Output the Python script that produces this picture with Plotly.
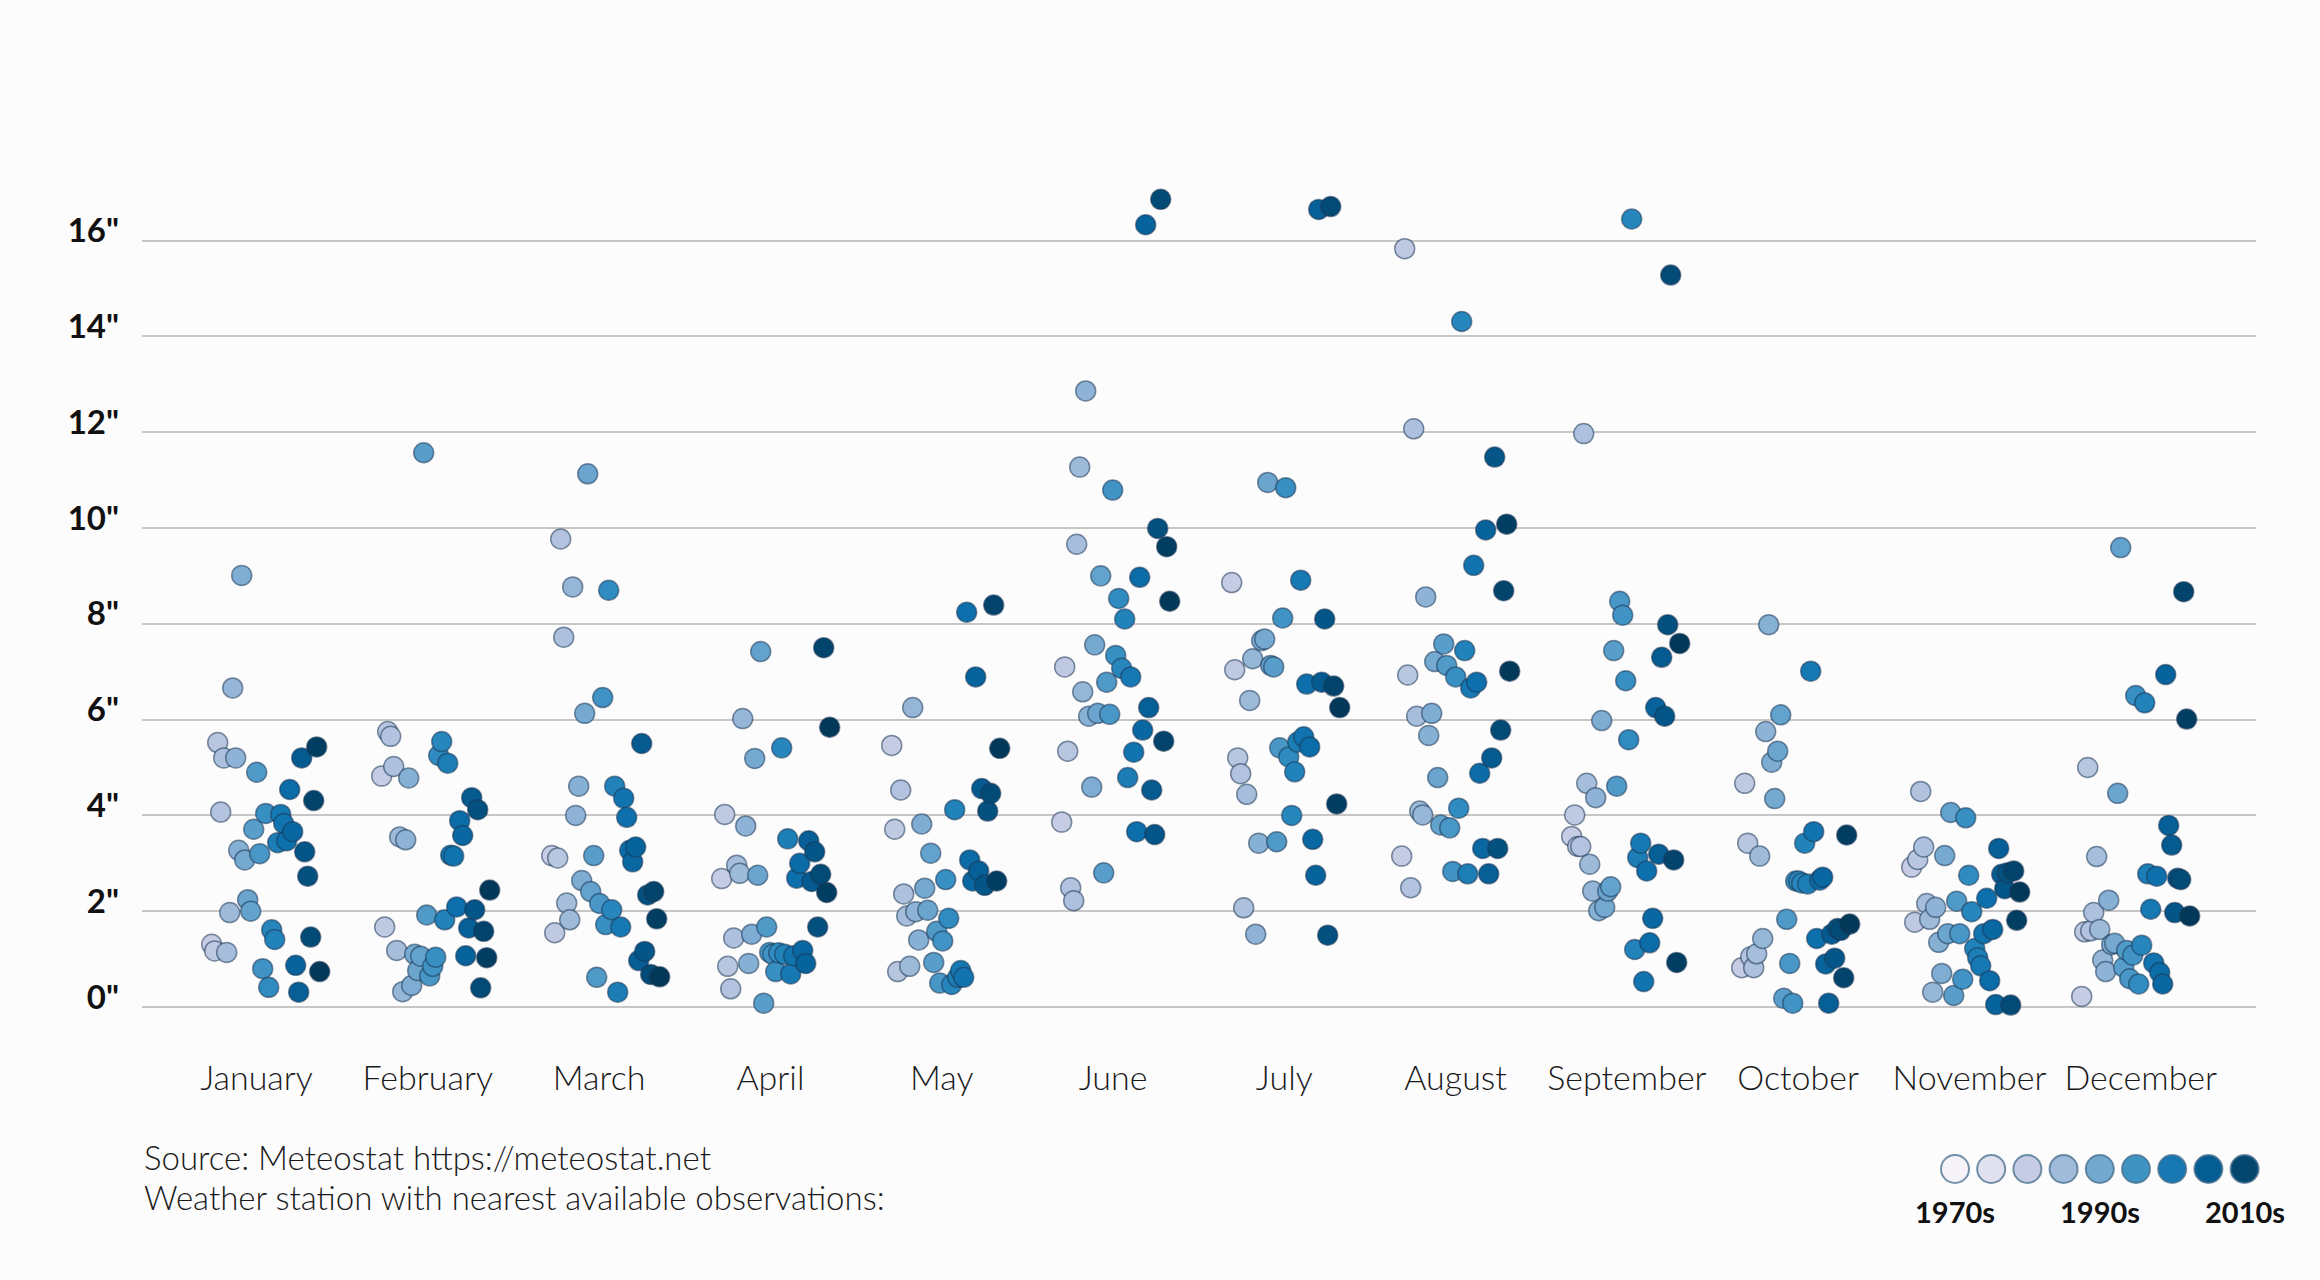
import plotly.graph_objects as go

# ---------------- data ----------------
MONTHS = ["January", "February", "March", "April", "May", "June",
          "July", "August", "September", "October", "November", "December"]
YEARS = [1983, 1984, 1985, 1986, 1987, 1988, 1989, 1990, 1991, 1992, 1993, 1994,
         1995, 1996, 1997, 1998, 1999, 2000, 2001, 2002, 2003, 2004, 2005, 2006,
         2007, 2008, 2009, 2010, 2011, 2012, 2013, 2014, 2015, 2016, 2017, 2018, 2019]

jan = [1.31, 1.17, 5.52, 4.07, 5.20, 1.14, 1.97, 6.66, 5.20, 3.27, 9.01, 3.07, 2.24, 2.00,
       3.71, 4.90, 3.20, 0.80, 4.04, 0.41, 1.61, 1.41, 3.43, 4.02, 3.83, 3.47, 4.54, 3.66,
       0.87, 0.31, 5.20, 3.24, 2.73, 1.46, 4.31, 5.43, 0.74]
feb = [4.82, 1.67, 5.75, 5.65, 5.02, 1.18, 3.55, 0.32, 3.49, 4.78, 0.45, 1.10, 0.76, 1.06,
       11.57, 1.92, 0.65, 0.85, 1.04, 5.25, 5.54, 1.82, 5.09, 3.17, 3.15, 2.09, 3.89, 3.58,
       1.07, 1.65, 4.37, 2.03, 4.12, 0.40, 1.58, 1.03, 2.44]
mar = [3.16, 1.55, 3.11, 9.77, 7.72, 2.17, 1.82, 8.77, 4.00, 4.61, 2.64, 6.13, 11.13, 2.41,
       3.16, 0.62, 2.16, 6.46, 1.72, 8.70, 2.03, 4.61, 0.31, 1.67, 4.36, 3.96, 3.27, 3.03,
       3.34, 0.97, 5.50, 1.16, 2.34, 0.68, 2.41, 1.84, 0.63]
apr = [2.68, 4.02, 0.85, 0.38, 1.44, 2.96, 2.79, 6.02, 3.78, 0.91, 1.52, 5.19, 2.75, 7.42,
       0.08, 1.67, 1.14, 1.10, 0.74, 1.13, 5.41, 1.10, 3.51, 0.69, 1.07, 2.69, 3.00, 1.18,
       0.91, 3.47, 2.62, 3.24, 1.67, 2.77, 7.50, 2.39, 5.84]
may = [5.46, 3.71, 0.74, 4.53, 2.36, 1.90, 0.85, 6.25, 1.99, 1.40, 3.82, 2.48, 2.02, 3.21,
       0.93, 1.58, 0.50, 1.38, 2.66, 1.85, 0.47, 4.12, 0.62, 0.76, 0.62, 8.24, 3.07, 2.63,
       6.89, 2.84, 4.56, 2.54, 4.09, 4.46, 8.39, 2.63, 5.40]
jun = [3.86, 7.10, 5.34, 2.49, 2.22, 9.66, 11.27, 6.58, 12.86, 6.07, 4.59, 7.56, 6.13, 9.00,
       2.80, 6.78, 6.11, 10.79, 7.34, 8.53, 7.07, 8.10, 4.79, 6.89, 5.32, 3.66, 8.97, 5.78,
       16.33, 6.25, 4.53, 3.60, 9.99, 16.86, 5.55, 9.61, 8.47]
jul = [8.86, 7.04, 5.20, 4.87, 2.07, 4.44, 6.40, 7.27, 1.52, 3.42, 7.65, 7.68, 10.95, 7.13,
       7.10, 3.45, 5.41, 8.12, 10.84, 5.22, 4.00, 4.91, 5.53, 8.91, 5.64, 6.74, 5.43, 3.50,
       2.75, 16.65, 6.78, 8.10, 1.50, 16.71, 6.70, 4.24, 6.25]
aug = [3.15, 15.83, 6.93, 2.49, 12.07, 6.07, 4.09, 4.01, 8.56, 5.67, 6.13, 7.21, 4.79, 3.80,
       7.58, 7.13, 3.74, 2.83, 6.89, 4.15, 14.31, 7.44, 2.78, 6.66, 9.22, 6.78, 4.88, 3.31,
       9.96, 2.78, 5.20, 11.48, 3.31, 5.78, 8.69, 10.08, 7.01]
sep = [3.56, 4.01, 3.35, 3.35, 11.97, 4.67, 2.98, 2.42, 4.37, 2.01, 5.98, 2.08, 2.42, 2.51,
       7.44, 4.61, 8.47, 8.18, 6.81, 5.58, 16.45, 1.20, 3.12, 3.42, 0.53, 2.84, 1.34, 1.85,
       6.25, 3.19, 7.30, 6.07, 7.98, 15.28, 3.07, 0.93, 7.59]
oct = [0.82, 4.67, 3.42, 1.05, 0.82, 1.11, 3.15, 1.43, 5.75, 7.98, 5.11, 4.35, 5.34, 6.10,
       0.18, 1.83, 0.91, 0.08, 2.63, 2.63, 2.59, 3.42, 2.57, 7.01, 3.66, 1.43, 2.65, 2.71,
       0.90, 0.08, 1.52, 1.02, 1.64, 1.60, 0.61, 3.59, 1.73]
nov = [2.92, 1.77, 3.08, 4.50, 3.34, 2.16, 1.83, 0.31, 2.08, 1.35, 0.70, 3.16, 1.53, 4.06,
       0.24, 2.21, 1.53, 0.58, 3.95, 2.75, 1.99, 1.22, 1.03, 0.86, 1.53, 2.27, 0.55, 1.62,
       0.05, 3.31, 2.77, 2.47, 2.80, 0.04, 2.84, 1.81, 2.40]
dec = [0.22, 1.57, 5.00, 1.59, 1.97, 3.14, 1.62, 0.98, 0.74, 2.23, 1.30, 1.33, 4.46, 9.59,
       0.83, 1.18, 0.59, 1.08, 6.50, 0.48, 1.29, 6.35, 2.78, 2.04, 0.92, 2.73, 0.72, 0.48,
       6.94, 3.79, 3.38, 1.97, 2.69, 2.66, 8.67, 6.01, 1.90]

MONTH_VALUES = [jan, feb, mar, apr, may, jun, jul, aug, sep, oct, nov, dec]
Y_TICKS = [0, 2, 4, 6, 8, 10, 12, 14, 16]
Y_TICK_TEXT = ['0"', '2"', '4"', '6"', '8"', '10"', '12"', '14"', '16"']
LEGEND_LABELS = ["1970s", "1990s", "2010s"]
SOURCE_LINES = ["Source: Meteostat https://meteostat.net",
                "Weather station with nearest available observations:"]

# ---------------- styling / layout constants ----------------
W, H = 2320, 1280
ML, MR, MT, MB = 142, 64, 150, 240
YEAR_STEP = 3.0 / 170.0       # axis units per year inside a month band
YEAR_MID = 2001
LABEL_STEP = 171.3 / 170.0    # month label spacing (axis units)
LABEL_OFF = -9.2 / 170.0

COLORSCALE = [
    [0.00, "#c6cce4"], [0.14, "#a6bddb"], [0.28, "#7dacd2"], [0.42, "#4f9ac8"],
    [0.56, "#2686bd"], [0.70, "#0c6fab"], [0.82, "#055d94"], [0.92, "#034a76"],
    [1.00, "#023858"],
]
LEGEND_COLORS = ["#f5f2f8", "#e0e0ef", "#c5cce4", "#a0bbd9", "#74a9cf",
                 "#3f93c3", "#1778b3", "#045d93", "#03466e"]
BG = "#fdfcfd"
THIN_FONT = "Lato"
BOLD_FONT = "Lato"

xs, ys, cs, texts = [], [], [], []
for mi, vals in enumerate(MONTH_VALUES):
    for yr, v in zip(YEARS, vals):
        xs.append(mi + (yr - YEAR_MID) * YEAR_STEP)
        ys.append(v)
        cs.append(yr)
        texts.append(f"{MONTHS[mi]} {yr}: {v} in")

fig = go.Figure()
fig.add_trace(go.Scatter(
    x=xs, y=ys, mode="markers", text=texts, hoverinfo="text",
    marker=dict(size=20, color=cs, colorscale=COLORSCALE,
                cmin=YEARS[0], cmax=YEARS[-1],
                line=dict(color="rgba(25,55,85,0.55)", width=1.5)),
    showlegend=False,
))

x0 = (ML - 265.7) / 170.0
x1 = (W - MR - 265.7) / 170.0
fig.update_xaxes(
    range=[x0, x1],
    tickvals=[i * LABEL_STEP + LABEL_OFF for i in range(len(MONTHS))],
    ticktext=MONTHS, showgrid=False, zeroline=False, showline=False,
    ticks="", ticklabelstandoff=15,
    tickfont=dict(family=THIN_FONT, size=34, color="#1a1a1a", weight=300),
)
fig.update_yaxes(
    range=[-0.689, 17.89], tickvals=Y_TICKS, ticktext=Y_TICK_TEXT,
    showgrid=True, gridcolor="#c6c6c6", gridwidth=1.5,
    zeroline=False, showline=False, ticks="",
    ticklabelstandoff=22, ticklabelshift=-10,
    tickfont=dict(family=BOLD_FONT, size=33, color="#111111", weight="bold"),
)

# legend circles (colour key)
shapes = []
for k, col in enumerate(LEGEND_COLORS):
    px_x = 1955 + 36.2 * k
    px_y = 1169
    shapes.append(dict(
        type="circle", xref="paper", yref="paper",
        xsizemode="pixel", ysizemode="pixel",
        xanchor=(px_x - ML) / (W - ML - MR), yanchor=(H - MB - px_y) / (H - MT - MB),
        x0=-14, x1=14, y0=-14, y1=14,
        fillcolor=col, line=dict(color="rgba(70,110,140,0.75)", width=2),
    ))

annotations = []
for k, lab in enumerate(LEGEND_LABELS):
    px_x = 1955 + 145 * k
    annotations.append(dict(
        text=lab, xref="paper", yref="paper",
        x=(px_x - ML) / (W - ML - MR), y=(H - MB - 1211) / (H - MT - MB),
        xanchor="center", yanchor="middle", showarrow=False,
        font=dict(family=BOLD_FONT, size=29, color="#111111", weight="bold"),
    ))
for j, line in enumerate(SOURCE_LINES):
    annotations.append(dict(
        text=line, xref="paper", yref="paper",
        x=0, y=(H - MB - (1157 + 40 * j)) / (H - MT - MB),
        xanchor="left", yanchor="middle", showarrow=False,
        font=dict(family=THIN_FONT, size=33, color="#1a1a1a", weight=300),
    ))

fig.update_layout(
    width=W, height=H,
    margin=dict(l=ML, r=MR, t=MT, b=MB, autoexpand=False),
    paper_bgcolor=BG, plot_bgcolor=BG,
    shapes=shapes, annotations=annotations,
    hovermode="closest",
)

fig.write_html(
    "out.html", config={"displayModeBar": False},
    post_script="document.body.style.margin='0px';document.body.style.background='#fdfcfd';",
)
